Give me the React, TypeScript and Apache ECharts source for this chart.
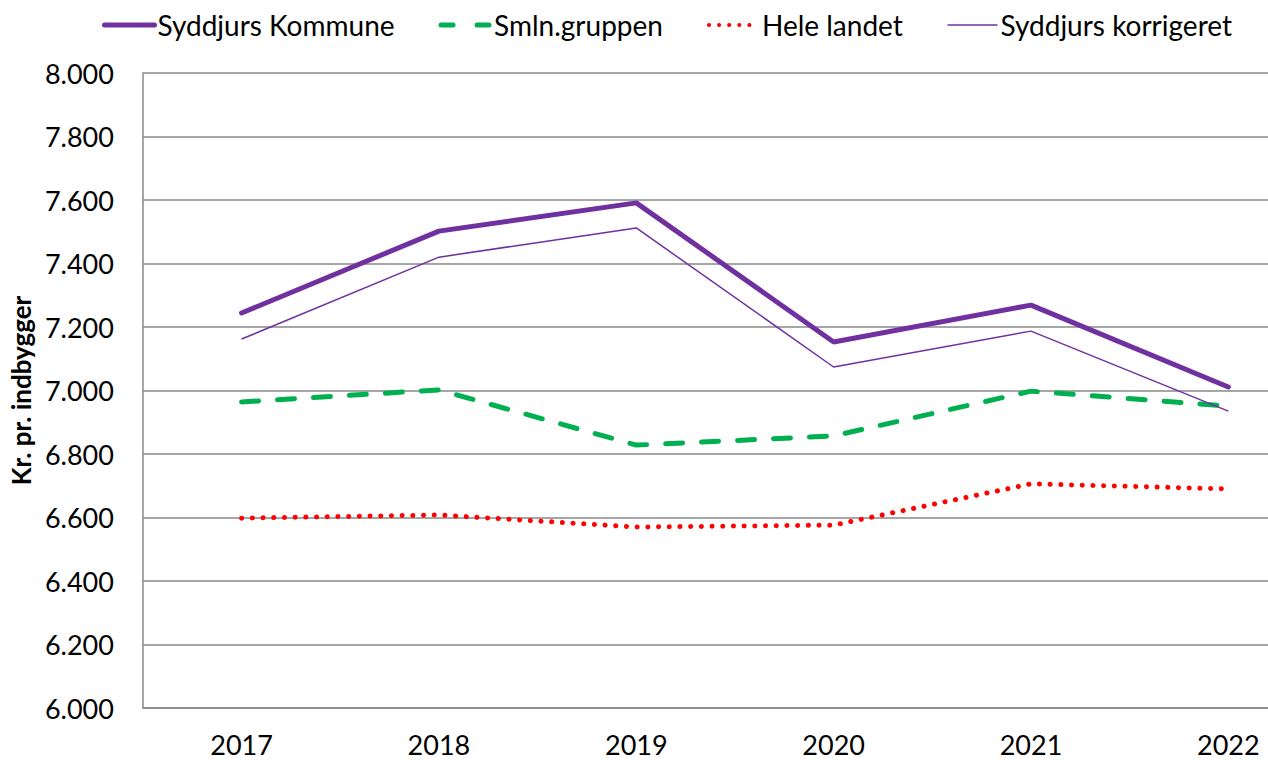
import React, { useEffect, useRef } from "react";
import * as echarts from "echarts";

const years = ["2017", "2018", "2019", "2020", "2021", "2022"];
const syddjursKommune = [7244, 7502, 7591, 7153, 7269, 7011];
const smlnGruppen = [6964, 7002, 6828, 6857, 6998, 6951];
const heleLandet = [6598, 6608, 6570, 6576, 6706, 6690];
const syddjursKorrigeret = [7162, 7420, 7512, 7074, 7187, 6935];

const FONT = "Lato, 'Open Sans', sans-serif";

export default function App() {
  const ref = useRef<HTMLDivElement>(null);
  useEffect(() => {
    if (!ref.current) return;
    const chart = echarts.init(ref.current, null, { renderer: "svg" });
    chart.setOption({
      animation: false,
      backgroundColor: "#ffffff",
      textStyle: { fontFamily: FONT },
      legend: {
        top: 6,
        left: 97,
        itemWidth: 50,
        itemHeight: 14,
        itemGap: 44,
        itemStyle: { opacity: 0 },
        textStyle: { fontSize: 28, color: "#000", fontFamily: FONT, padding: [0, 0, 0, -2] },
        data: [
          { name: "Syddjurs Kommune", lineStyle: { width: 5, color: "#7030A0", type: "solid", cap: "round" } },
          { name: "Smln.gruppen", lineStyle: { width: 5, color: "#00B050", type: [12, 24], cap: "round" } },
          { name: "Hele landet", lineStyle: { width: 4, color: "#FF0000", type: [0.1, 10], cap: "round" } },
          { name: "Syddjurs korrigeret", lineStyle: { width: 1.5, color: "#7030A0", type: "solid" } },
        ],
      },
      grid: { left: 141, top: 73, right: 3, height: 635, containLabel: false },
      xAxis: {
        type: "category",
        data: years,
        boundaryGap: true,
        axisLine: { lineStyle: { color: "#898989", width: 1.5 } },
        axisTick: { show: false },
        axisLabel: { fontSize: 27, color: "#000", margin: 23, fontFamily: FONT },
      },
      yAxis: {
        type: "value",
        min: 6000,
        max: 8000,
        interval: 200,
        name: "Kr. pr. indbygger",
        nameLocation: "middle",
        nameGap: 105,
        nameTextStyle: { fontSize: 26, fontWeight: "bold", color: "#000", fontFamily: FONT },
        axisLine: { show: true, lineStyle: { color: "#898989", width: 1.5 } },
        axisTick: { show: false },
        splitLine: { lineStyle: { color: "#898989", width: 1.5 } },
        axisLabel: {
          fontSize: 27,
          color: "#000",
          margin: 29,
          fontFamily: FONT,
          formatter: (v: number) => {
            const s = String(v);
            return s.length > 3 ? s.slice(0, s.length - 3) + "." + s.slice(-3) : s;
          },
        },
      },
      series: [
        {
          name: "Syddjurs Kommune",
          type: "line",
          data: syddjursKommune,
          symbol: "none",
          color: "#7030A0",
          lineStyle: { width: 5, color: "#7030A0", cap: "round" },
        },
        {
          name: "Smln.gruppen",
          type: "line",
          data: smlnGruppen,
          symbol: "none",
          color: "#00B050",
          lineStyle: { width: 5, color: "#00B050", type: [17, 19], cap: "round" },
        },
        {
          name: "Hele landet",
          type: "line",
          data: heleLandet,
          symbol: "none",
          color: "#FF0000",
          lineStyle: { width: 5, color: "#FF0000", type: [0.1, 10.6], cap: "round" },
        },
        {
          name: "Syddjurs korrigeret",
          type: "line",
          data: syddjursKorrigeret,
          symbol: "none",
          color: "#7030A0",
          lineStyle: { width: 1.5, color: "#7030A0" },
        },
      ],
    });
    return () => chart.dispose();
  }, []);
  return (
    <div style={{ position: "fixed", left: 0, top: 0, width: 1268, height: 760, overflow: "hidden" }}>
      <div ref={ref} style={{ width: 1330, height: 760 }} />
    </div>
  );
}
